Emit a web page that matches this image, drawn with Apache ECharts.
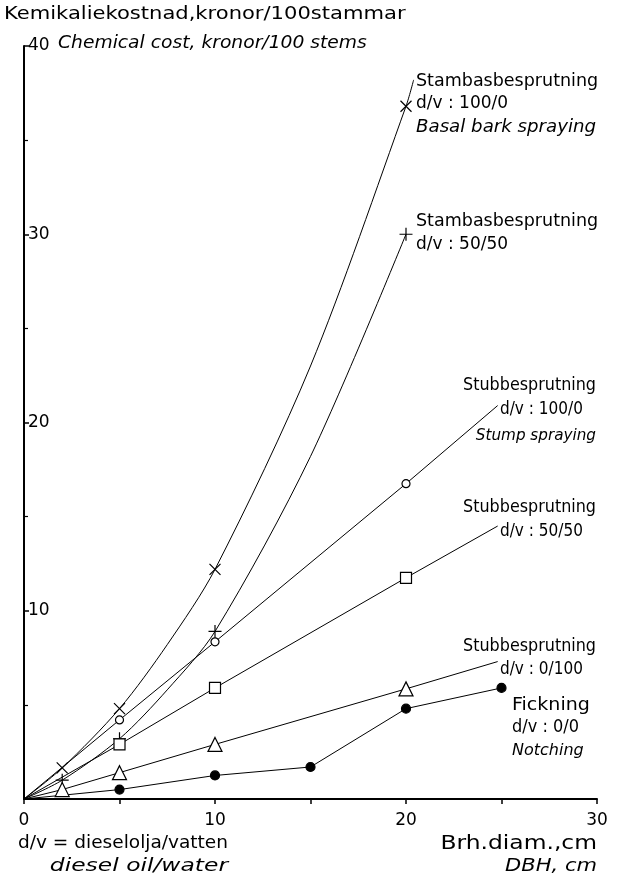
<!DOCTYPE html>
<html>
<head>
<meta charset="utf-8">
<script src="https://cdn.jsdelivr.net/npm/echarts@6/dist/echarts.min.js"></script>
<style>
html,body{margin:0;padding:0;background:#fff;}
#chart{width:628px;height:880px;}
</style>
</head>
<body>
<div id="chart"></div>
<script>
// ---- Data (x = DBH cm, y = kronor/100 stems) ----
// first point is the origin; points flagged false are read off the drawn curve (no marker)
const basal100 = [[0,0],[2,1.65],[5,4.8],[7.5,8.2],[10,12.2],[15,23.0],[20,36.8],[20.4,38.2]];
const basal100Marked = [false,true,true,false,true,false,true,false];
const basal50 = [[0,0],[2,1.0],[5,3.2],[7.5,5.8],[10,8.9],[15,18.2],[20,30.0]];
const basal50Marked = [false,true,true,false,true,false,true];
const stump100 = [[0,0],[5,4.2],[10,8.35],[20,16.75],[24.8,20.9]];
const stump100Marked = [false,true,true,true,false];
const stump50 = [[0,0],[5,2.9],[10,5.9],[20,11.75],[24.8,14.5]];
const stump50Marked = [false,true,true,true,false];
const stump0 = [[0,0],[2,0.5],[5,1.4],[10,2.9],[20,5.85],[24.8,7.3]];
const stump0Marked = [false,true,true,true,true,false];
const notching = [[0,0],[5,0.5],[10,1.25],[15,1.7],[20,4.8],[25,5.9]];
const notchingMarked = [false,true,true,true,true,true];

const xTicks = [0,10,20,30];
const yTicks = [10,20,30,40];

const FONT = "'DejaVu Sans', sans-serif";

function build(vals, marked){
  return vals.map((v,i)=> marked[i] ? {value:v} : {value:v, symbol:'none'});
}

const chart = echarts.init(document.getElementById('chart'), null, {renderer:'canvas'});

function mkSeries(name, vals, marked, symbol, size, fill, smooth){
  return {
    name, type:'line', data: build(vals, marked),
    smooth: smooth || false,
    symbol, symbolSize: size, showAllSymbol:true,
    lineStyle:{color:'#000', width:1},
    itemStyle:{color: fill, borderColor:'#000', borderWidth:1.2},
    emphasis:{disabled:true}, silent:true, z:3
  };
}

function txt(text, x, y, italic, align, size, sx){
  return {type:'text', x, y, scaleX: sx||1, silent:true, style:{
    text, fill:'#000', font: (italic?'italic ':'') + (size||16) + 'px ' + FONT,
    textAlign: align||'left', textVerticalAlign:'middle', align: align||'left', verticalAlign:'middle'
  }};
}

const option = {
  backgroundColor:'#fff',
  animation:false,
  grid:{left:24, right:31, top:46, bottom:81, containLabel:false},
  xAxis:{
    type:'value', min:0, max:30, interval:10,
    axisLine:{show:true, lineStyle:{color:'#000', width:2}},
    axisTick:{show:true, inside:false, length:5, lineStyle:{color:'#000', width:1.5}},
    minorTick:{show:true, splitNumber:2, length:5, lineStyle:{color:'#000', width:1.5}},
    splitLine:{show:false},
    axisLabel:{color:'#000', fontFamily:FONT, fontSize:17, margin:13,
      formatter: v => xTicks.includes(v) ? String(v) : ''}
  },
  yAxis:{
    type:'value', min:0, max:40, interval:10,
    axisLine:{show:true, lineStyle:{color:'#000', width:2}},
    axisTick:{show:true, inside:true, length:5, lineStyle:{color:'#000', width:1.5}},
    minorTick:{show:true, splitNumber:2, length:4, lineStyle:{color:'#000', width:1.2}},
    splitLine:{show:false},
    axisLabel:{inside:true, color:'#000', fontFamily:FONT, fontSize:17, margin:4,
      formatter: v => yTicks.includes(v) ? String(v) : ''}
  },
  series:[
    mkSeries('Basal 100/0', basal100, basal100Marked, 'path://M0,0L10,10M10,0L0,10', 11, 'none', 0.3),
    mkSeries('Basal 50/50', basal50, basal50Marked, 'path://M5,0L5,10M0,5L10,5', 13, 'none', 0.3),
    mkSeries('Stump 100/0', stump100, stump100Marked, 'circle', 8, '#fff'),
    mkSeries('Stump 50/50', stump50, stump50Marked, 'rect', 11, '#fff'),
    mkSeries('Stump 0/100', stump0, stump0Marked, 'triangle', 14, '#fff'),
    mkSeries('Notching', notching, notchingMarked, 'circle', 9, '#000')
  ],
  graphic:[
    txt('Kemikaliekostnad,kronor/100stammar', 4, 14, false, 'left', 18, 1.17),
    txt('Chemical cost, kronor/100 stems', 58, 44, true, 'left', 17, 1.1),
    txt('Stambasbesprutning', 416, 82, false, 'left', 17, 1.03),
    txt('d/v : 100/0', 416, 104, false, 'left', 17),
    txt('Basal bark spraying', 416, 128, true, 'left', 17, 1.07),
    txt('Stambasbesprutning', 416, 222, false, 'left', 17, 1.03),
    txt('d/v : 50/50', 416, 245, false, 'left', 17),
    txt('Stubbesprutning', 596, 386, false, 'right', 17, 0.94),
    txt('d/v : 100/0', 500, 410, false, 'left', 17, 0.9),
    txt('Stump spraying', 596, 436, true, 'right', 16, 0.95),
    txt('Stubbesprutning', 596, 508, false, 'right', 17, 0.94),
    txt('d/v : 50/50', 500, 532, false, 'left', 17, 0.9),
    txt('Stubbesprutning', 596, 647, false, 'right', 17, 0.94),
    txt('d/v : 0/100', 500, 670, false, 'left', 17, 0.9),
    txt('Fickning', 512, 706, false, 'left', 17, 1.12),
    txt('d/v : 0/0', 512, 728, false, 'left', 17, 0.95),
    txt('Notching', 512, 751, true, 'left', 16),
    txt('d/v = dieselolja/vatten', 18, 844, false, 'left', 17, 1.09),
    txt('diesel oil/water', 228, 866, true, 'right', 18, 1.3),
    txt('Brh.diam.,cm', 597, 844, false, 'right', 20, 1.17),
    txt('DBH, cm', 597, 866, true, 'right', 18, 1.17)
  ]
};
chart.setOption(option);
</script>
</body>
</html>
